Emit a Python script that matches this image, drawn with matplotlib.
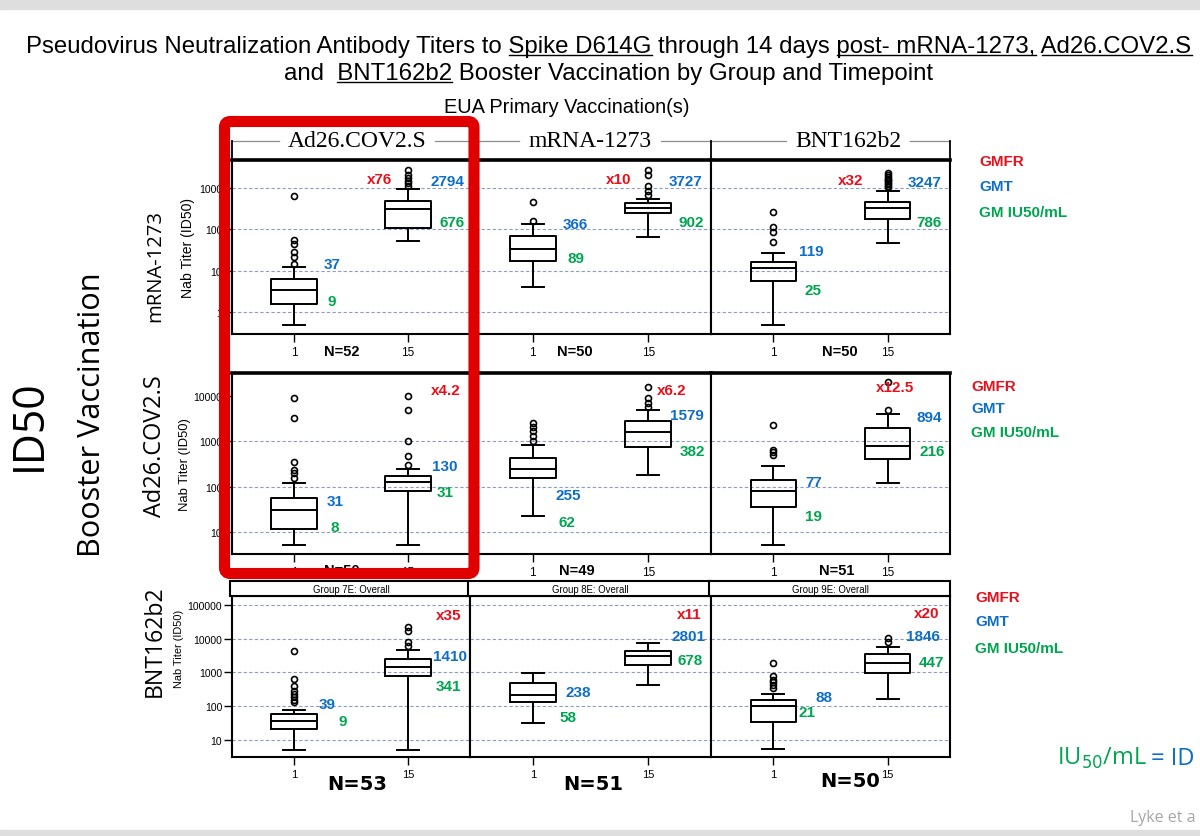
import matplotlib
matplotlib.use("Agg")
import matplotlib.pyplot as plt
from matplotlib import font_manager
from matplotlib.font_manager import FontProperties
from matplotlib.patches import FancyBboxPatch, Rectangle
from matplotlib.lines import Line2D
from matplotlib.transforms import Affine2D
from matplotlib.ticker import NullLocator, FixedLocator

# ---------------- data ----------------
primary = ['Ad26.COV2.S', 'mRNA-1273', 'BNT162b2']
booster = ['mRNA-1273', 'Ad26.COV2.S', 'BNT162b2']
days = ['1', '15']
strip_row3 = ['Group 7E: Overall', 'Group 8E: Overall', 'Group 9E: Overall']
n_subjects = [[52, 50, 50], [50, 49, 51], [53, 51, 50]]
gmfr = [['x76', 'x10', 'x32'], ['x4.2', 'x6.2', 'x12.5'], ['x35', 'x11', 'x20']]
gmt_day1 = [[37, 366, 119], [31, 255, 77], [39, 238, 88]]
gmt_day15 = [[2794, 3727, 3247], [130, 1579, 894], [1410, 2801, 1846]]
iu_day1 = [[9, 89, 25], [8, 62, 19], [9, 58, 21]]
iu_day15 = [[676, 902, 786], [31, 382, 216], [341, 678, 447]]

# box summaries: [whisker low, Q1, median, Q3, whisker high] per row, column, day
boxes = [
    [[[0.49, 1.56, 3.4, 6.2, 12.5], [53, 106, 312, 487, 950]],
     [[3.96, 16.9, 33.5, 70, 138], [65, 245, 330, 427, 535]],
     [[0.49, 5.7, 11.4, 16, 27], [47, 178, 330, 453, 850]]],
    [[[5.2, 11.5, 30.5, 56, 119], [5.2, 78, 125, 168, 246]],
     [[22.8, 156, 239, 430, 817], [182, 725, 1550, 2700, 4730]],
     [[5.2, 35.4, 78, 138, 286], [118, 395, 780, 1900, 4000]]],
    [[[5.2, 21, 36, 60, 79], [5.2, 805, 1480, 2500, 4730]],
     [[31, 137, 220, 490, 967], [437, 1660, 3150, 4430, 7600]],
     [[5.3, 35, 104, 156, 235], [161, 946, 1950, 3530, 5580]]],
]
outliers = [
    [[[14.5, 22, 28, 44, 55, 630], [1143, 1330, 1510, 1780, 2075, 2790]],
     [[160, 460], [680, 865, 1100, 2110, 2700]],
     [[50, 85, 112, 268], [1050, 1150, 1250, 1350, 1450, 1550, 1700, 1850, 2050, 2300]]],
    [[[156, 195, 230, 350, 3160, 8800], [292, 460, 1015, 4800, 9900]],
     [[1015, 1290, 1660, 2000, 2450], [5580, 6920, 8700, 15500]],
     [[500, 565, 640, 2290], [4880, 20000]]],
    [[[131, 153, 184, 231, 289, 406, 630, 4430], [6200, 7800, 17300, 21800]],
     [[], []],
     [[347, 425, 508, 612, 770, 1950], [8200, 10500]]],
]
y_ticks = [[1, 10, 100, 1000], [10, 100, 1000, 10000], [10, 100, 1000, 10000, 100000]]
grid_vals = [[1, 10, 100, 1000], [10, 100, 1000], [10, 100, 1000, 10000, 100000]]
y_limits = [(0.293, 4790), (3.28, 31300), (3.13, 185000)]

# ---------------- layout (pixels, origin top-left) ----------------
W, H = 1200, 837
col_px = [(232, 470), (470, 711), (711, 950)]
row_px = [(161, 335), (374, 555), (597, 758)]
# label centres: gmfr, gmt day15, iu day15, gmt day1, iu day1
lab_px = [
    [[(380, 180), (447, 182), (452, 223), (332, 265), (332, 302)],
     [(619, 180), (686, 182), (691, 223), (575, 225), (576, 259)],
     [(851, 181), (925, 183), (929, 223), (811, 252), (813, 291)]],
    [[(446, 391), (445, 467), (445, 493), (335, 502), (335, 528)],
     [(672, 391), (687, 416), (692, 452), (568, 496), (567, 523)],
     [(895, 388), (929, 418), (932, 452), (814, 483), (814, 517)]],
    [[(449, 616), (450, 657), (448, 687), (327, 705), (343, 722)],
     [(689, 615), (688, 637), (690, 661), (578, 693), (568, 718)],
     [(927, 614), (923, 637), (931, 663), (824, 698), (807, 713)]],
]
n_px = [[(342, 352), (575, 352), (840, 352)],
        [(342, 571), (577, 571), (837, 571)],
        [(357, 785), (593, 785), (850, 782)]]

RED, BLUE, GREEN = '#e8101c', '#0f6fc6', '#00a550'


def pick(names, default='DejaVu Sans'):
    for n in names:
        try:
            font_manager.findfont(FontProperties(family=n), fallback_to_default=False)
            return n
        except ValueError:
            pass
    return default


NARROW = pick(['Liberation Sans Narrow', 'DejaVu Sans Condensed', 'Liberation Sans'])
SANS = pick(['Liberation Sans', 'Arial'])
SERIF = pick(['Liberation Serif', 'DejaVu Serif'])
CAL = pick(['Open Sans', 'Noto Sans'])

fig = plt.figure(figsize=(W / 100, H / 100), dpi=100)
fig.patch.set_facecolor('white')
PX = Affine2D().scale(1, -1).translate(0, H)
renderer = fig.canvas.get_renderer()


def ptext(x, y, s, **kw):
    return fig.text(x, y, s, transform=PX, **kw)


def pline(xs, ys, **kw):
    fig.add_artist(Line2D(xs, ys, transform=PX, **kw))


def fit(t, target, vertical=False):
    bb = t.get_window_extent(renderer)
    cur = bb.height if vertical else bb.width
    t.set_fontsize(t.get_fontsize() * target / cur)
    return t


def width_of(s, size, family):
    t = ptext(0, 0, s, fontsize=size, family=family)
    w = t.get_window_extent(renderer).width
    t.remove()
    return w


def title_line(pieces, cx, base_y, size, family):
    full = ''.join(p for p, _ in pieces)
    total = width_of(full, size, family)
    left = cx - total / 2
    ptext(left, base_y, full, fontsize=size, family=family, va='baseline', ha='left')
    sp = width_of('a a', size, family) - width_of('aa', size, family)
    pre = ''
    for s, u in pieces:
        if u:
            stripped = pre.rstrip()
            x0 = left + (width_of(stripped, size, family) if stripped else 0) + sp * (len(pre) - len(stripped))
            x1 = left + width_of((pre + s).rstrip(), size, family)
            pline([x0, x1], [base_y + 3, base_y + 3], color='black', lw=1.0)
        pre += s


# window chrome strips
fig.add_artist(Rectangle((0, 0), W, 10, transform=PX, color='#dedede', zorder=0))
fig.add_artist(Rectangle((0, 831), W, 6, transform=PX, color='#dedede', zorder=0))

# title
line1 = [('Pseudovirus Neutralization Antibody Titers to ', False), ('Spike D614G', True),
         (' through 14 days ', False), ('post- mRNA-1273,', True), (' ', False), ('Ad26.COV2.S', True)]
line2 = [('and  ', False), ('BNT162b2', True), (' Booster Vaccination by Group and Timepoint', False)]
tsize = 20 * 1162 / width_of(''.join(p for p, _ in line1), 20, NARROW)
title_line(line1, 609, 53, tsize, NARROW)
title_line(line2, 608, 80, tsize, NARROW)
fit(ptext(567, 108, 'EUA Primary Vaccination(s)', fontsize=14, family=NARROW, ha='center', va='center'), 247)

# left labels
fit(ptext(30, 425, 'ID50', fontsize=30, family=CAL, rotation=90, ha='center', va='center'), 92, vertical=True)
fit(ptext(92, 415, 'Booster Vaccination', fontsize=24, family=CAL, rotation=90, ha='center', va='center'),
    285, vertical=True)
row_lab = [(155, 266, 112), (155, 446, 142), (155, 641, 112)]
for (x, y, L), name in zip(row_lab, booster):
    fit(ptext(x, y, name, fontsize=18, family=CAL, rotation=90, ha='center', va='center'), L, vertical=True)
nab = [(188, 248, 100, 9), (185, 465, 93, 9), (179, 649, 78, 7.5)]
for x, y, L, fs in nab:
    fit(ptext(x, y, 'Nab Titer (ID50)', fontsize=fs, family=SANS, rotation=90, ha='center', va='center'),
        L, vertical=True)

# row-1 strip headers
head_cx = [357, 590, 848]
for (l, r), cx, name in zip(col_px, head_cx, primary):
    t = ptext(cx, 142, name, fontsize=17, family=SERIF, ha='center', va='center')
    w = t.get_window_extent(renderer).width
    pline([l, cx - w / 2 - 9], [142, 142], color='#8c8c8c', lw=0.9)
    pline([cx + w / 2 + 9, r], [142, 142], color='#8c8c8c', lw=0.9)
for x in [232, 470, 711, 950]:
    pline([x, x], [142, 161], color='black', lw=1.3)

# row-3 strip boxes
for (l, r), name in zip(col_px, strip_row3):
    fig.add_artist(Rectangle((l - 2, 582), r - l + 2, 15, transform=PX, facecolor='white',
                             edgecolor='black', lw=1.5))
    fit(ptext((l + r) / 2, 590, name, fontsize=8, family=NARROW, ha='center', va='center'), 78)

# panels
x_lim = (1 - 62 / 114, 2 + 62 / 114)
for i, (t, b) in enumerate(row_px):
    for j, (l, r) in enumerate(col_px):
        ax = fig.add_axes([l / W, 1 - b / H, (r - l) / W, (b - t) / H])
        ax.set_yscale('log')
        ax.set_xlim(*x_lim)
        ax.set_ylim(*y_limits[i])
        for g in grid_vals[i]:
            ax.axhline(g, color='#8c9cc8', lw=0.8, ls=(0, (3, 2)), zorder=0)
        stats = []
        for d in range(2):
            s = boxes[i][j][d]
            stats.append(dict(whislo=s[0], q1=s[1], med=s[2], q3=s[3], whishi=s[4],
                              fliers=outliers[i][j][d]))
        lw = 1.4
        ax.bxp(stats, positions=[1, 2], widths=0.395, capwidths=0.19, manage_ticks=False,
               boxprops=dict(color='black', lw=lw), whiskerprops=dict(color='black', lw=lw),
               capprops=dict(color='black', lw=lw), medianprops=dict(color='black', lw=lw),
               flierprops=dict(marker='o', markersize=4.3, markerfacecolor='none',
                               markeredgecolor='black', markeredgewidth=1.2))
        for sp in ax.spines.values():
            sp.set_linewidth(1.5)
        if i < 2:
            ax.spines['top'].set_linewidth(2.6)
        ax.set_xticks([1, 2])
        ax.set_xticklabels(days, fontsize=8.5 if i < 2 else 8, family=NARROW)
        ax.tick_params(axis='x', length=6, width=1, pad=3)
        ax.yaxis.set_minor_locator(NullLocator())
        ax.xaxis.set_minor_locator(NullLocator())
        ax.yaxis.set_major_locator(FixedLocator(y_ticks[i]))
        if j == 0:
            ax.set_yticklabels([str(v) for v in y_ticks[i]], fontsize=7.5, family=NARROW)
            ax.tick_params(axis='y', length=6, width=1, pad=1)
        else:
            ax.tick_params(axis='y', length=0, labelleft=False)

        vals = [gmfr[i][j], gmt_day15[i][j], iu_day15[i][j], gmt_day1[i][j], iu_day1[i][j]]
        cols = [RED, BLUE, GREEN, BLUE, GREEN]
        for (x, y), v, c in zip(lab_px[i][j], vals, cols):
            ptext(x, y, str(v), color=c, fontsize=11, family=SANS, weight='bold',
                  ha='center', va='center')
        nx, ny = n_px[i][j]
        if i < 2:
            ptext(nx, ny, f'N={n_subjects[i][j]}', fontsize=10.5, family=SANS, weight='bold',
                  ha='center', va='center')
        else:
            ptext(nx, ny, f'N={n_subjects[i][j]}', fontsize=14, family='DejaVu Sans', weight='bold',
                  ha='center', va='center')

# right-hand keys
key_px = [(979, [162, 187, 213]), (971, [387, 409, 433]), (975, [598, 622, 649])]
for x, ys in key_px:
    for y, s, c in zip(ys, ['GMFR', 'GMT', 'GM IU50/mL'], [RED, BLUE, GREEN]):
        ptext(x, y, s, color=c, fontsize=11, family=SANS, weight='bold', ha='left', va='center')

# footnote pieces as far as the slide shows them
t = ptext(1057, 765, r'IU$_{50}$/mL ', color=GREEN, fontsize=17, family=CAL, ha='left', va='baseline')
w = t.get_window_extent(renderer).width
ptext(1057 + w + 3, 765, '= ID', color=BLUE, fontsize=17, family=CAL, ha='left', va='baseline')
ptext(1196, 818, 'Lyke et a', color='#a6a6a6', fontsize=11.5, family=CAL, ha='right', va='center')

# highlight box
fig.add_artist(FancyBboxPatch((224.5, 122.5), 249.5, 452, boxstyle='round,pad=0,rounding_size=6',
                              transform=PX, facecolor='none', edgecolor='#e00000', lw=8, zorder=10))

fig.savefig('out.png', dpi=100)
